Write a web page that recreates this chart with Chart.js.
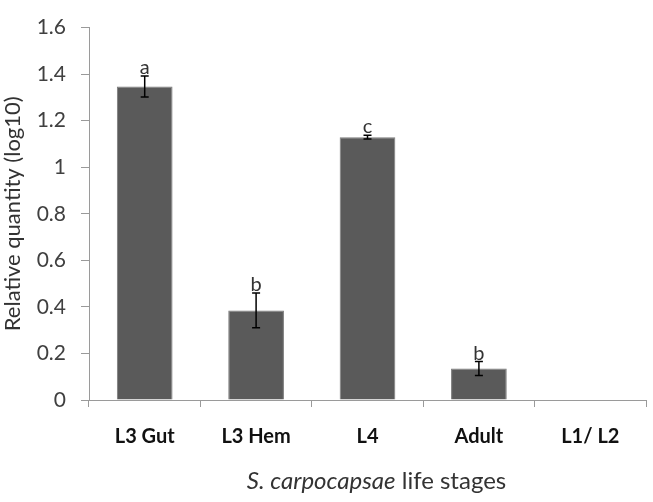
<!DOCTYPE html>
<html>
<head>
<meta charset="utf-8">
<script src="https://cdn.jsdelivr.net/npm/chart.js@4/dist/chart.umd.min.js"></script>
<style>
  html, body { margin: 0; padding: 0; background: #fff; }
  #wrap { width: 653px; height: 502px; position: relative; }
</style>
</head>
<body>
<div id="wrap"><canvas id="stagesChart"></canvas></div>
<script>
// data
const stages = ['L3 Gut', 'L3 Hem', 'L4', 'Adult', 'L1/ L2'];
const quantity = [1.347, 0.385, 1.129, 0.135, 0];
const errors = [0.045, 0.075, 0.008, 0.03, 0];
const letters = ['a', 'b', 'c', 'b', ''];
const yTicks = [0, 0.2, 0.4, 0.6, 0.8, 1, 1.2, 1.4, 1.6];

const FONT = 'Lato, "Open Sans", sans-serif';

// error bars and significance letters
const errorBars = {
    id: 'errorBars',
    afterDatasetsDraw(chart) {
        const ctx = chart.ctx;
        const meta = chart.getDatasetMeta(0);
        const y = chart.scales.y;
        ctx.save();
        meta.data.forEach(function(bar, i) {
            const x = bar.x;
            const v = quantity[i];
            const e = errors[i];
            if (v === 0) return;
            const top = y.getPixelForValue(v + e);
            const bot = y.getPixelForValue(v - e);
            ctx.strokeStyle = '#000';
            ctx.lineWidth = 1.5;
            ctx.beginPath();
            ctx.moveTo(x, top); ctx.lineTo(x, bot);
            ctx.moveTo(x - 4, top); ctx.lineTo(x + 4, top);
            ctx.moveTo(x - 4, bot); ctx.lineTo(x + 4, bot);
            ctx.stroke();
            ctx.fillStyle = '#333';
            ctx.font = '20px ' + FONT;
            ctx.textAlign = 'center';
            ctx.textBaseline = 'alphabetic';
            ctx.fillText(letters[i], x, top - 2);
        });
        ctx.restore();
    }
};

// x axis title with the italic species name
const xTitle = {
    id: 'xTitle',
    afterDraw(chart) {
        const ctx = chart.ctx;
        const area = chart.chartArea;
        const italicPart = 'S. carpocapsae';
        const rest = ' life stages';
        ctx.save();
        ctx.fillStyle = '#333';
        ctx.textBaseline = 'alphabetic';
        ctx.font = 'italic 24px ' + FONT;
        const w1 = ctx.measureText(italicPart).width;
        ctx.font = '24px ' + FONT;
        const w2 = ctx.measureText(rest).width;
        const cx = (area.left + area.right) / 2 + 9;
        let x = cx - (w1 + w2) / 2;
        ctx.textAlign = 'left';
        ctx.font = 'italic 24px ' + FONT;
        ctx.fillText(italicPart, x, 489);
        ctx.font = '24px ' + FONT;
        ctx.fillText(rest, x + w1, 489);
        ctx.restore();
    }
};

const ctx = document.getElementById('stagesChart').getContext('2d');
new Chart(ctx, {
    type: 'bar',
    data: {
        labels: stages,
        datasets: [{
            data: quantity,
            backgroundColor: '#5a5a5a',
            borderColor: '#7a7a7a',
            borderWidth: 1,
            categoryPercentage: 1,
            barPercentage: 0.5
        }]
    },
    options: {
        responsive: true,
        maintainAspectRatio: false,
        animation: false,
        layout: { padding: { top: 15, right: 7, left: 0, bottom: 0 } },
        plugins: {
            legend: { display: false },
            tooltip: { enabled: false }
        },
        scales: {
            x: {
                grid: { display: true, drawOnChartArea: false, drawTicks: true, tickLength: 7, offset: true, color: '#9a9a9a' },
                border: { color: '#9a9a9a', width: 1 },
                ticks: {
                    color: '#111',
                    font: { family: FONT, size: 20, weight: 'bold' },
                    padding: 18,
                    maxRotation: 0
                },
                afterFit(scale) { scale.height = 102; }
            },
            y: {
                min: 0,
                max: 1.6,
                afterBuildTicks(scale) {
                    scale.ticks = yTicks.map(function(v) { return { value: v }; });
                },
                grid: { display: true, drawOnChartArea: false, tickLength: 8, color: '#9a9a9a' },
                border: { color: '#9a9a9a', width: 1 },
                ticks: {
                    color: '#404040',
                    font: { family: FONT, size: 21 },
                    padding: 15,
                    callback: function(v) { return String(v); }
                },
                title: {
                    display: true,
                    text: 'Relative quantity (log10)',
                    color: '#333',
                    font: { family: FONT, size: 22 },
                    padding: { top: 0, bottom: 1 }
                },
                afterFit(scale) { scale.width = 89; }
            }
        }
    },
    plugins: [errorBars, xTitle]
});
</script>
</body>
</html>
